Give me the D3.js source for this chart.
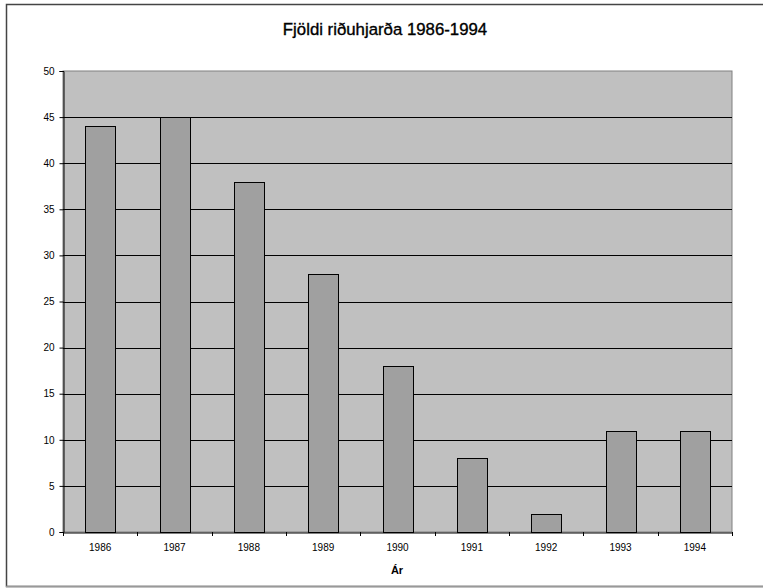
<!DOCTYPE html>
<html><head><meta charset="utf-8">
<script src="https://cdn.jsdelivr.net/npm/d3@7"></script>
<style>body{margin:0;background:#fff;}svg{display:block;font-family:Arial,"Liberation Sans",sans-serif;}</style>
</head><body>
<script>
const years = ["1986","1987","1988","1989","1990","1991","1992","1993","1994"];
const counts = [44, 45, 38, 28, 18, 8, 2, 11, 11];
const yTicks = [0,5,10,15,20,25,30,35,40,45,50];
const titleText = "Fjöldi riðuhjarða 1986-1994";
const xTitle = "Ár";

const W = 763, H = 588;
const m = {left: 63, top: 71, right: 732, bottom: 532};
const svg = d3.select("body").append("svg").attr("width", W).attr("height", H);

// outer border
svg.append("rect").attr("x", 6.5).attr("y", 4.5).attr("width", 800).attr("height", 582)
  .attr("fill", "#fff").attr("stroke", "#444").attr("stroke-width", 1.5);
svg.append("line").attr("x1", 6).attr("x2", W).attr("y1", 586.5).attr("y2", 586.5)
  .attr("stroke", "#999").attr("stroke-width", 1.5);

const x = d3.scaleBand().domain(years).range([m.left, m.right]).paddingInner(0.6).paddingOuter(0.3);
const xb = d3.scaleBand().domain(years).range([m.left, m.right]);
const y = d3.scaleLinear().domain([0, 50]).range([m.bottom, m.top]);

// plot area
svg.append("rect").attr("x", m.left).attr("y", m.top).attr("width", m.right - m.left).attr("height", m.bottom - m.top)
  .attr("fill", "#c0c0c0").attr("stroke", "#808080").attr("stroke-width", 1);

// gridlines
svg.append("g").selectAll("line").data(yTicks.filter(d => d > 0 && d < 50)).join("line")
  .attr("x1", m.left).attr("x2", m.right)
  .attr("y1", d => Math.round(y(d)) + 0.5).attr("y2", d => Math.round(y(d)) + 0.5)
  .attr("stroke", "#000").attr("stroke-width", 1);

// bars
svg.append("g").selectAll("rect").data(years).join("rect")
  .attr("x", (d) => Math.round(x(d)) + 0.5)
  .attr("y", (d, i) => Math.round(y(counts[i])) + 0.5)
  .attr("width", Math.round(x.bandwidth()))
  .attr("height", (d, i) => Math.round(y(0)) - Math.round(y(counts[i])))
  .attr("fill", "#a0a0a0").attr("stroke", "#000").attr("stroke-width", 1);

// y axis
const yAxis = d3.axisLeft(y).tickValues(yTicks).tickSize(4).tickPadding(5);
const gy = svg.append("g").attr("transform", `translate(${m.left + 0.5},0)`).call(yAxis);
gy.select(".domain").attr("stroke", "#000");
gy.selectAll(".tick line").attr("stroke", "#000");
gy.selectAll("text").attr("font-size", 10).attr("fill", "#000").attr("font-family", "Arial, 'Liberation Sans', sans-serif");

// x axis
const xAxis = d3.axisBottom(xb).tickSize(0).tickPadding(11);
const gx = svg.append("g").attr("transform", `translate(0,${m.bottom + 0.5})`).call(xAxis);
gx.select(".domain").attr("stroke", "#000");
gx.selectAll("text").attr("font-size", 10).attr("fill", "#000").attr("font-family", "Arial, 'Liberation Sans', sans-serif");
// category separator ticks
const seps = years.map(d => xb(d)).concat([m.right]);
svg.append("g").selectAll("line").data(seps).join("line")
  .attr("x1", d => Math.round(d) + 0.5).attr("x2", d => Math.round(d) + 0.5)
  .attr("y1", m.bottom).attr("y2", m.bottom + 4).attr("stroke", "#000");

// titles
svg.append("text").attr("x", 385).attr("y", 35).attr("text-anchor", "middle")
  .attr("font-size", 16.8).attr("font-weight", "normal").attr("fill", "#000")
  .attr("stroke", "#000").attr("stroke-width", 0.35).text(titleText);
svg.append("text").attr("x", 397).attr("y", 574).attr("text-anchor", "middle")
  .attr("font-size", 11).attr("font-weight", "bold").attr("fill", "#000").text(xTitle);
</script>
</body></html>
